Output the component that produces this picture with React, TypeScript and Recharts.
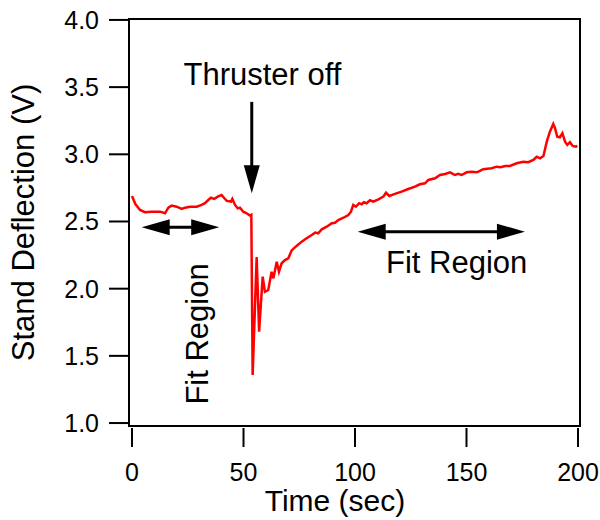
import { LineChart, Line, XAxis, YAxis, ReferenceLine, ReferenceDot, ReferenceArea, Label } from 'recharts'

const FONT = '"Liberation Sans", Arial, Helvetica, sans-serif'

// stand deflection trace
const timeSec = [
  0, 1.5, 3.6, 5.8, 8.8, 12.6, 14.8, 16.3, 17.8, 20, 22.3, 23.8, 26, 29, 31.2, 32.7, 34.2, 35.4, 36.9, 38.4,
  40.2, 41.4, 42.5, 44.4, 45, 46.2, 47.4, 48.4, 49.9, 51.4, 52.9, 53.5, 54.1, 55.9, 57, 58.6, 59.6, 61.1, 62.6, 63.4,
  64.9, 65.9, 67.1, 68.6, 70.1, 71.6, 73.8, 76.1, 78.3, 80.6, 82.1, 83.5, 85.1, 87.3, 89.6, 91, 92.5, 94.8, 97, 98.2,
  99.2, 100.4, 101.9, 103, 104, 105.2, 106.7, 108.2, 110.5, 112.7, 113.9, 115.4, 117.9, 120.9, 123.9, 126.9, 129.1, 131.4, 132.9, 135.9,
  138.1, 140.4, 142.6, 144.8, 146.3, 147.8, 150.1, 152.3, 154.6, 156, 157.5, 161.3, 163.5, 165.3, 167.3, 169.5, 172.5, 175.5, 177.7, 180,
  181.5, 183, 184.5, 186, 187.4, 188.9, 189.7, 190.7, 191.9, 193, 194.2, 195.2, 196.4, 197.6, 199.1, 199.7,
]
const deflection = [
  2.69, 2.63, 2.586, 2.569, 2.573, 2.573, 2.561, 2.603, 2.618, 2.61, 2.593, 2.603, 2.61, 2.61, 2.623, 2.636, 2.66, 2.677, 2.668, 2.685,
  2.697, 2.673, 2.653, 2.648, 2.668, 2.623, 2.598, 2.603, 2.573, 2.561, 2.545, 2.55, 1.357, 2.235, 1.68, 2.09, 1.977, 1.99, 2.126, 2.077,
  2.2, 2.126, 2.189, 2.213, 2.226, 2.285, 2.318, 2.35, 2.375, 2.4, 2.417, 2.412, 2.442, 2.461, 2.487, 2.491, 2.511, 2.528, 2.548, 2.573,
  2.623, 2.61, 2.636, 2.628, 2.643, 2.636, 2.658, 2.647, 2.665, 2.685, 2.714, 2.69, 2.705, 2.722, 2.742, 2.759, 2.777, 2.784, 2.809, 2.822,
  2.846, 2.854, 2.866, 2.846, 2.854, 2.846, 2.866, 2.871, 2.866, 2.876, 2.889, 2.896, 2.908, 2.904, 2.913, 2.913, 2.933, 2.945, 2.941, 2.958,
  2.982, 2.97, 2.988, 3.094, 3.168, 3.226, 3.194, 3.131, 3.127, 3.157, 3.094, 3.07, 3.09, 3.062, 3.057, 3.062,
]

const xTicks = [0, 50, 100, 150, 200]
const yTicks = [1.0, 1.5, 2.0, 2.5, 3.0, 3.5, 4.0]

const data = timeSec.map((t, i) => ({ t, v: deflection[i] }))

const X_DOMAIN: [number, number] = [-1.35, 200.9]
const Y_DOMAIN: [number, number] = [0.978, 4.007]

const HEAD_LEN = 28
const HEAD_HALF = 8

// draws a filled-head arrow along a ReferenceLine segment
function arrow(both: boolean) {
  return (p: any) => {
    const { x1, y1, x2, y2 } = p
    const len = Math.hypot(x2 - x1, y2 - y1) || 1
    const ux = (x2 - x1) / len
    const uy = (y2 - y1) / len
    const nx = -uy
    const ny = ux
    const head = (tx: number, ty: number, dir: number) => {
      const bx = tx - dir * ux * HEAD_LEN
      const by = ty - dir * uy * HEAD_LEN
      return `${tx},${ty} ${bx + nx * HEAD_HALF},${by + ny * HEAD_HALF} ${bx - nx * HEAD_HALF},${by - ny * HEAD_HALF}`
    }
    const sx = both ? x1 + ux * HEAD_LEN * 0.8 : x1
    const sy = both ? y1 + uy * HEAD_LEN * 0.8 : y1
    const ex = x2 - ux * HEAD_LEN * 0.8
    const ey = y2 - uy * HEAD_LEN * 0.8
    return (
      <g>
        <line x1={sx} y1={sy} x2={ex} y2={ey} stroke="#000" strokeWidth={3} />
        <polygon points={head(x2, y2, 1)} fill="#000" />
        {both && <polygon points={head(x1, y1, -1)} fill="#000" />}
      </g>
    )
  }
}

function note(text: string, rotate = false) {
  return (p: any) => (
    <text
      transform={`translate(${p.cx},${p.cy})${rotate ? ' rotate(-90)' : ''}`}
      textAnchor="middle"
      fontSize={31}
      fontFamily={FONT}
      fill="#000"
    >
      {text}
    </text>
  )
}

function TimeTick(props: any) {
  const { x, y, payload } = props
  return (
    <g>
      <line x1={x} y1={y + 2} x2={x} y2={y + 21} stroke="#000" strokeWidth={2} />
      <text x={x} y={y + 55} textAnchor="middle" fontSize={25} fontFamily={FONT} fill="#000">
        {payload.value}
      </text>
    </g>
  )
}

export default function App() {
  return (
    <div style={{ position: 'absolute', left: 0, top: 0 }}>
      <LineChart
        width={600}
        height={520}
        data={data}
        margin={{ top: 19, right: 20, left: 0, bottom: 34 }}
        style={{ fontFamily: FONT }}
      >
        <XAxis
          dataKey="t"
          type="number"
          domain={X_DOMAIN}
          ticks={xTicks}
          allowDataOverflow
          height={60}
          axisLine={false}
          tickLine={false}
          tickSize={0}
          tickMargin={0}
          interval={0}
          tick={<TimeTick />}
        >
          <Label
            content={({ viewBox }: any) => (
              <text x={viewBox.x + 206} y={viewBox.y + 85} textAnchor="middle" fontSize={30} fontFamily={FONT} fill="#000">
                Time (sec)
              </text>
            )}
          />
        </XAxis>
        <YAxis
          type="number"
          domain={Y_DOMAIN}
          ticks={yTicks}
          allowDataOverflow
          width={129}
          tickSize={20}
          tickMargin={10}
          interval={0}
          axisLine={{ stroke: '#000', strokeWidth: 2 }}
          tickLine={{ stroke: '#000', strokeWidth: 2 }}
          tick={{ fontSize: 25, fill: '#000', fontFamily: FONT }}
          tickFormatter={(v: number) => v.toFixed(1)}
        >
          <Label
            content={({ viewBox }: any) => (
              <text
                transform={`translate(34,${viewBox.y + viewBox.height / 2}) rotate(-90)`}
                textAnchor="middle"
                fontSize={31}
                fontFamily={FONT}
                fill="#000"
              >
                Stand Deflection (V)
              </text>
            )}
          />
        </YAxis>
        <ReferenceArea
          x1={X_DOMAIN[0]}
          x2={X_DOMAIN[1]}
          y1={Y_DOMAIN[0]}
          y2={Y_DOMAIN[1]}
          fill="none"
          stroke="#000"
          strokeWidth={2}
          ifOverflow="visible"
        />
        <Line
          type="linear"
          dataKey="v"
          stroke="#ff0000"
          strokeWidth={2.5}
          dot={false}
          isAnimationActive={false}
        />
        <ReferenceLine segment={[{ x: 53.7, y: 3.39 }, { x: 53.7, y: 2.71 }]} shape={arrow(false)} />
        <ReferenceLine segment={[{ x: 4.35, y: 2.457 }, { x: 39.1, y: 2.457 }]} shape={arrow(true)} />
        <ReferenceLine segment={[{ x: 101.2, y: 2.424 }, { x: 176.2, y: 2.424 }]} shape={arrow(true)} />
        <ReferenceDot x={58.5} y={3.516} r={0} shape={note('Thruster off')} />
        <ReferenceDot x={145.6} y={2.114} r={0} shape={note('Fit Region')} />
        <ReferenceDot x={34.1} y={1.663} r={0} shape={note('Fit Region', true)} />
      </LineChart>
    </div>
  )
}
